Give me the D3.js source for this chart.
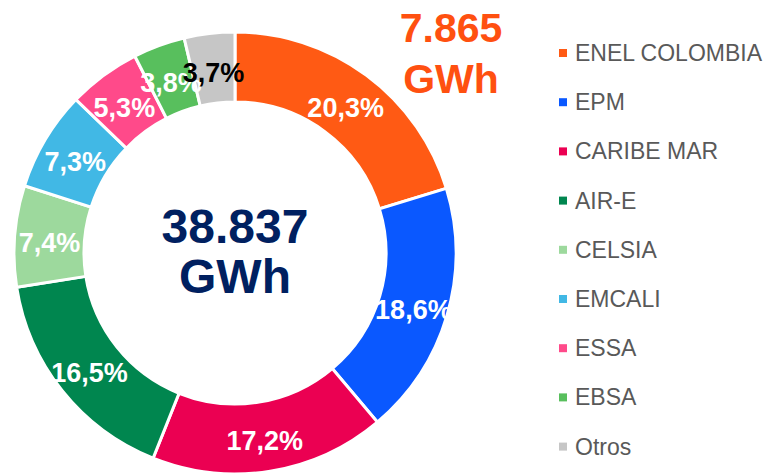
<!DOCTYPE html>
<html>
<head>
<meta charset="utf-8">
<script src="https://cdn.jsdelivr.net/npm/d3@7"></script>
<style>
  body { margin: 0; background: #fff; }
  svg { display: block; font-family: Arial, "Liberation Sans", sans-serif; }
</style>
</head>
<body>
<div id="chart"></div>
<script>
// Data
var categories = ["ENEL COLOMBIA", "EPM", "CARIBE MAR", "AIR-E", "CELSIA", "EMCALI", "ESSA", "EBSA", "Otros"];
var shares     = [20.3, 18.6, 17.2, 16.5, 7.4, 7.3, 5.3, 3.8, 3.7];
var colors     = ["#ff5a14", "#0a58ff", "#eb0052", "#00864f", "#9dd99d", "#41b8e5", "#ff4a8a", "#58bf5d", "#c6c6c6"];
var totalText  = ["38.837", "GWh"];
var enelText   = ["7.865", "GWh"];

var width  = 774;
var height = 476;

var cx = 235, cy = 253;
var outerR = 221, innerR = 151;

var svg = d3.select("#chart")
    .append("svg")
    .attr("width", width)
    .attr("height", height);

var pie = d3.pie()
    .sort(null)
    .value(function(d) { return d.value; });

var arc = d3.arc()
    .innerRadius(innerR)
    .outerRadius(outerR);

var rows = categories.map(function(c, i) {
    return { name: c, value: shares[i], color: colors[i] };
});

var g = svg.append("g")
    .attr("transform", "translate(" + cx + "," + cy + ")");

var slices = g.selectAll("path")
    .data(pie(rows))
    .enter()
    .append("path")
    .attr("d", arc)
    .style("fill", function(d) { return d.data.color; })
    .style("stroke", "#fff")
    .style("stroke-width", 3);

// Percent labels (EBSA and Otros overlap in the original too)
g.selectAll("text.pct")
    .data(pie(rows))
    .enter()
    .append("text")
    .attr("class", "pct")
    .attr("x", function(d) { return arc.centroid(d)[0]; })
    .attr("y", function(d) { return arc.centroid(d)[1]; })
    .attr("text-anchor", "middle")
    .attr("dy", "0.5em")
    .style("font-size", "27px")
    .style("font-weight", "bold")
    .style("fill", function(d) { return d.data.name === "Otros" ? "#000" : "#fff"; })
    .text(function(d) { return d3.format(".1f")(d.data.value).replace(".", ",") + "%"; });

// Total in the middle
svg.selectAll("text.total")
    .data(totalText)
    .enter()
    .append("text")
    .attr("class", "total")
    .attr("x", cx)
    .attr("y", function(d, i) { return 243 + i * 50; })
    .attr("text-anchor", "middle")
    .style("font-size", "48px")
    .style("font-weight", "bold")
    .style("fill", "#002060")
    .text(function(d) { return d; });

// ENEL callout
svg.selectAll("text.enel")
    .data(enelText)
    .enter()
    .append("text")
    .attr("class", "enel")
    .attr("x", 451)
    .attr("y", function(d, i) { return 42 + i * 51; })
    .attr("text-anchor", "middle")
    .style("font-size", "41px")
    .style("font-weight", "bold")
    .style("fill", "#ff5010")
    .text(function(d) { return d; });

// Legend
var legend = svg.selectAll("g.legend")
    .data(rows)
    .enter()
    .append("g")
    .attr("class", "legend")
    .attr("transform", function(d, i) { return "translate(559," + (61 + i * 49.2) + ")"; });

legend.append("rect")
    .attr("x", 0)
    .attr("y", -12)
    .attr("width", 8)
    .attr("height", 8)
    .style("fill", function(d) { return d.color; });

legend.append("text")
    .attr("x", 16)
    .attr("y", 0)
    .style("font-size", "23px")
    .style("fill", "#595959")
    .text(function(d) { return d.name; });
</script>
</body>
</html>
